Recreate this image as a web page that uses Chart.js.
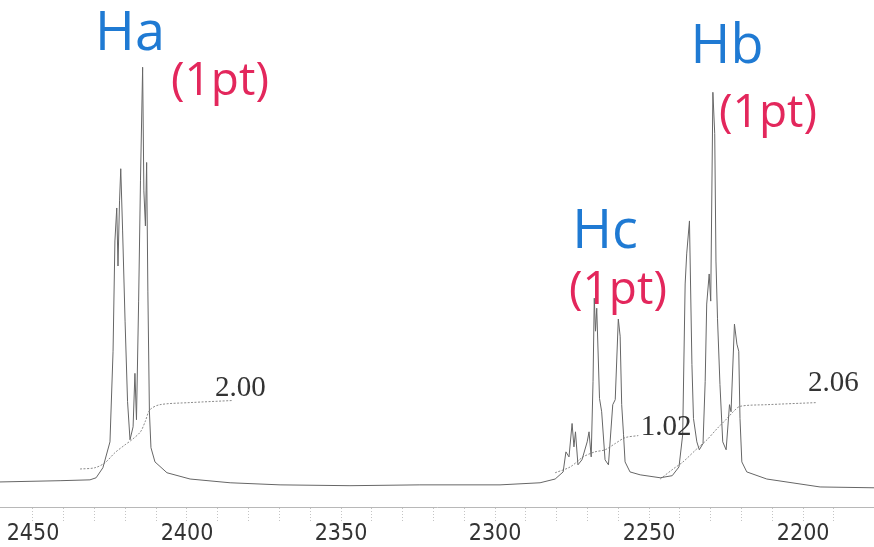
<!DOCTYPE html>
<html>
<head>
<meta charset="utf-8">
<script src="https://cdn.jsdelivr.net/npm/chart.js@4/dist/chart.umd.min.js"></script>
<style>
  html, body { margin: 0; padding: 0; background: #ffffff; }
  #c { display: block; }
</style>
</head>
<body>
<canvas id="c" width="874" height="547"></canvas>
<script>
// ---- Data (frequency in Hz, relative intensity) ----
const specHz = [2460.7, 2441.2, 2431.5, 2429.5, 2427.3, 2425.0, 2424.0, 2423.4, 2422.8, 2422.4,
  2421.9, 2421.5, 2420.9, 2420.1, 2419.3, 2418.5, 2417.5, 2416.9, 2416.4, 2415.7,
  2415.1, 2414.4, 2414.0, 2413.5, 2413.1, 2412.7, 2412.2, 2411.7, 2410.4, 2406.5,
  2399.0, 2386.0, 2369.8, 2347.1, 2324.4, 2298.4, 2285.4, 2280.5, 2277.9, 2277.0,
  2276.0, 2275.0, 2274.4, 2273.9, 2273.1, 2271.8, 2270.1, 2269.5, 2268.8, 2268.2,
  2267.8, 2267.4, 2267.0, 2266.1, 2265.4, 2264.3, 2263.2, 2261.8, 2261.0, 2260.0,
  2259.4, 2258.9, 2258.3, 2257.8, 2256.2, 2252.9, 2246.4, 2242.5, 2240.3, 2239.1,
  2238.3, 2237.8, 2236.9, 2236.1, 2235.6, 2234.5, 2233.7, 2232.5, 2231.8, 2231.3,
  2230.5, 2230.0, 2229.3, 2228.7, 2228.3, 2227.8, 2227.0, 2226.1, 2225.0, 2223.9,
  2223.4, 2222.3, 2221.5, 2220.9, 2220.5, 2219.9, 2218.3, 2211.8, 2194.5, 2177.0];
const specInt = [0.7, 1.0, 1.2, 1.7, 4.1, 10.3, 32.0, 58.4, 66.3, 52.4,
  68.0, 75.7, 60.8, 39.2, 20.0, 10.8, 13.9, 26.7, 15.6, 44.0,
  72.8, 100.0, 70.4, 62.0, 77.2, 46.4, 17.5, 8.9, 5.5, 2.9,
  1.4, 0.5, 0.0, -0.2, 0.0, 0.0, 0.5, 1.4, 3.1, 7.9,
  6.7, 14.7, 9.1, 12.7, 4.8, 6.0, 10.3, 12.7, 6.7, 24.8,
  44.7, 36.8, 42.3, 20.7, 17.5, 6.0, 4.8, 19.2, 20.4, 39.7,
  35.6, 19.2, 12.0, 5.5, 3.1, 2.4, 1.7, 2.2, 4.3, 12.0,
  48.1, 55.3, 63.2, 28.8, 15.9, 10.3, 8.4, 9.9, 24.8, 43.3,
  50.5, 44.0, 94.0, 84.1, 53.6, 39.9, 24.0, 10.3, 8.4, 19.2,
  17.5, 38.5, 33.7, 32.0, 15.9, 5.5, 3.1, 1.4, -0.5, -0.7];

// Integral traces
const intAHz = [2434.7, 2429.9, 2426.6, 2423.4, 2420.1, 2417.9, 2415.1, 2413.6, 2412.0, 2408.8, 2399.0, 2385.1];
const intAVal = [3.8, 4.1, 5.3, 7.7, 9.6, 10.8, 12.7, 15.1, 18.0, 19.2, 19.7, 20.2];
const intCHz = [2280.5, 2275.6, 2271.4, 2267.6, 2264.3, 2261.0, 2257.8, 2253.5];
const intCVal = [2.9, 4.3, 6.7, 7.9, 8.4, 9.9, 11.3, 11.8];
const intBHz = [2246.4, 2242.2, 2239.0, 2234.4, 2231.2, 2227.9, 2224.7, 2222.7, 2220.5, 2211.7, 2195.5];
const intBVal = [1.4, 3.8, 5.5, 8.7, 10.8, 13.5, 15.9, 17.5, 18.8, 19.2, 19.7];

// Integral values and peak labels
const integralLabels = ['2.00', '1.02', '2.06'];
const peakNames = ['Ha', 'Hb', 'Hc'];
const protonNotes = ['(1pt)', '(1pt)', '(1pt)'];

// Axis tick labels (Hz)
const tickLabels = [2450, 2400, 2350, 2300, 2250, 2200];

// ---- anchors for annotations (data coordinates) ----
const integralAnchors = [
  { x: 2390.9, y: 21.2 },
  { x: 2252.7, y: 12.0 },
  { x: 2198.4, y: 22.4 }
];
const nameAnchors = [
  { x: 2418.5, y: 107.9 },
  { x: 2224.7, y: 104.6 },
  { x: 2264.3, y: 60.3 }
];
const noteAnchors = [
  { x: 2389.3, y: 96.4 },
  { x: 2211.4, y: 88.9 },
  { x: 2260.1, y: 46.4 }
];

const toPts = (xs, ys) => xs.map((x, i) => ({ x: x, y: ys[i] }));

const annotate = {
  id: 'annotate',
  afterDatasetsDraw(chart) {
    const ctx = chart.ctx, xs = chart.scales.x, ys = chart.scales.y;
    ctx.save();
    ctx.font = '29px "Liberation Serif", "DejaVu Serif", serif';
    ctx.fillStyle = '#333333';
    ctx.textAlign = 'left';
    ctx.textBaseline = 'alphabetic';
    integralLabels.forEach((t, i) => {
      const a = integralAnchors[i];
      ctx.fillText(t, xs.getPixelForValue(a.x), ys.getPixelForValue(a.y));
    });
    ctx.textAlign = 'center';
    ctx.textBaseline = 'middle';
    ctx.font = '500 54px "Open Sans", "Noto Sans", sans-serif';
    ctx.fillStyle = '#1f7ad3';
    peakNames.forEach((t, i) => {
      const a = nameAnchors[i];
      ctx.fillText(t, xs.getPixelForValue(a.x), ys.getPixelForValue(a.y));
    });
    ctx.font = '500 46px "Open Sans", "Noto Sans", sans-serif';
    ctx.fillStyle = '#e3275c';
    protonNotes.forEach((t, i) => {
      const a = noteAnchors[i];
      ctx.fillText(t, xs.getPixelForValue(a.x), ys.getPixelForValue(a.y));
    });
    ctx.restore();
  }
};

new Chart(document.getElementById('c'), {
  type: 'line',
  data: {
    datasets: [
      { data: toPts(specHz, specInt), borderColor: '#666666', borderWidth: 1, pointRadius: 0, tension: 0, fill: false },
      { data: toPts(intAHz, intAVal), borderColor: '#8a8a8a', borderWidth: 1, borderDash: [2, 1.5], pointRadius: 0, tension: 0.3, fill: false },
      { data: toPts(intCHz, intCVal), borderColor: '#8a8a8a', borderWidth: 1, borderDash: [2, 1.5], pointRadius: 0, tension: 0.3, fill: false },
      { data: toPts(intBHz, intBVal), borderColor: '#8a8a8a', borderWidth: 1, borderDash: [2, 1.5], pointRadius: 0, tension: 0.3, fill: false }
    ]
  },
  options: {
    responsive: false,
    devicePixelRatio: 1,
    animation: false,
    events: [],
    layout: { padding: 0 },
    plugins: { legend: { display: false }, tooltip: { enabled: false } },
    scales: {
      x: {
        type: 'linear',
        reverse: true,
        min: 2177,
        max: 2460.7,
        afterBuildTicks: (scale) => {
          scale.ticks = scale.ticks.filter(t => Math.abs(t.value - Math.round(t.value / 10) * 10) < 1e-6);
        },
        ticks: {
          stepSize: 10,
          autoSkip: false,
          maxRotation: 0,
          padding: 1,
          color: '#333333',
          font: { family: '"DejaVu Sans Condensed", "Liberation Sans Narrow", "Liberation Sans", sans-serif', size: 23, lineHeight: 1 },
          callback: (v) => tickLabels.includes(Math.round(v)) && Math.abs(v - Math.round(v)) < 1e-6 ? String(Math.round(v)) : ''
        },
        grid: {
          drawOnChartArea: false,
          drawTicks: true,
          tickLength: 15,
          tickColor: '#c4c4c4',
          tickBorderDash: [1, 2],
          tickWidth: 1
        },
        border: { display: true, color: '#b8b8b8', width: 1, dash: [1, 2] }
      },
      y: {
        type: 'linear',
        display: false,
        min: -5.3,
        max: 116.1
      }
    }
  },
  plugins: [annotate]
});
</script>
</body>
</html>
